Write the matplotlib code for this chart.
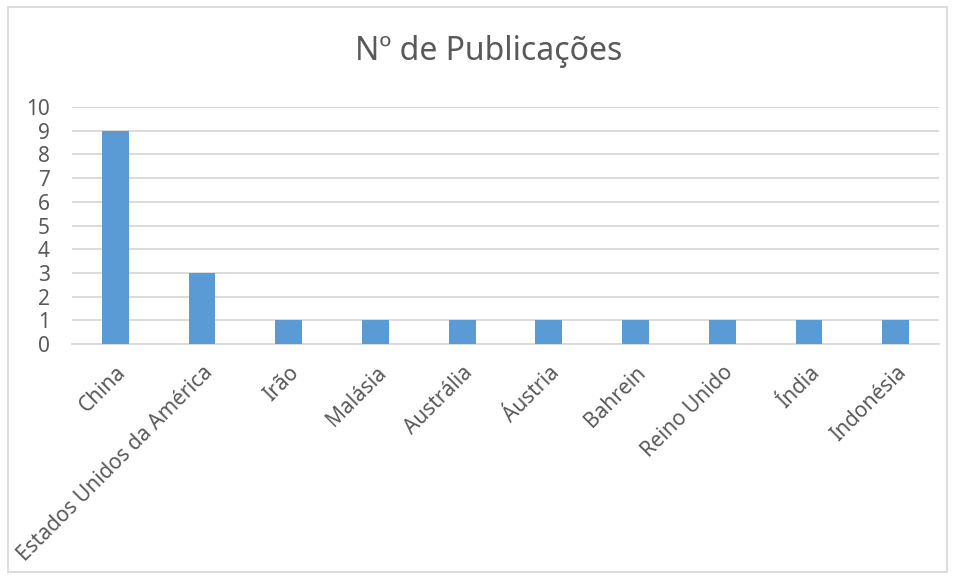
import matplotlib
matplotlib.use("Agg")
import matplotlib.pyplot as plt
from matplotlib.patches import Rectangle

categories = ["China", "Estados Unidos da América", "Irão", "Malásia", "Austrália",
              "Áustria", "Bahrein", "Reino Unido", "Índia", "Indonésia"]
values = [9, 3, 1, 1, 1, 1, 1, 1, 1, 1]
yticks = list(range(0, 11))
title = "Nº de Publicações"

plt.rcParams['font.family'] = ['Noto Sans', 'DejaVu Sans']
W, H = 955, 579
fig = plt.figure(figsize=(W / 100, H / 100), dpi=100)
ax = fig.add_axes([72 / W, 1 - 344 / H, (939 - 72) / W, (344 - 107) / H])

x = list(range(len(categories)))
ax.bar(x, values, width=0.31, color="#5b9bd5", zorder=3)
ax.set_xlim(-0.5, len(categories) - 0.5)
ax.set_ylim(0, 10)
ax.set_yticks(yticks)
ax.set_yticklabels([str(v) for v in yticks], fontsize=15, color="#595959")
ax.yaxis.grid(True, color="#d9d9d9", linewidth=1.3, zorder=0)
ax.tick_params(axis="y", length=0, pad=16)
ax.tick_params(axis="x", length=0, pad=13)
ax.set_xticks(x)
ax.set_xticklabels(categories, fontsize=15, color="#595959", rotation=45,
                   ha="right", va="top", rotation_mode="anchor")
for s in ["left", "right", "top"]:
    ax.spines[s].set_visible(False)
ax.spines["bottom"].set_color("#d9d9d9")
ax.spines["bottom"].set_linewidth(1.3)

fig.text(489 / W, 1 - 52 / H, title, ha="center", va="center", fontsize=23, color="#595959")
fig.patches.append(Rectangle((8 / W, 1 - 572 / H), (947 - 8) / W, (572 - 7) / H,
                             transform=fig.transFigure, fill=False,
                             edgecolor="#d9d9d9", linewidth=1.3))
fig.savefig("out.png", dpi=100)
